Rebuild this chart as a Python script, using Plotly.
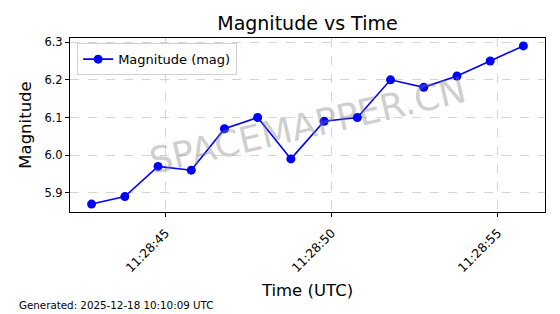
import plotly.graph_objects as go

times = ["2025-12-18 11:28:42.77", "2025-12-18 11:28:43.77", "2025-12-18 11:28:44.77",
         "2025-12-18 11:28:45.77", "2025-12-18 11:28:46.77", "2025-12-18 11:28:47.77",
         "2025-12-18 11:28:48.77", "2025-12-18 11:28:49.77", "2025-12-18 11:28:50.77",
         "2025-12-18 11:28:51.77", "2025-12-18 11:28:52.77", "2025-12-18 11:28:53.77",
         "2025-12-18 11:28:54.77", "2025-12-18 11:28:55.77"]
magnitude = [5.87, 5.89, 5.97, 5.96, 6.07, 6.10, 5.99, 6.09, 6.10, 6.20, 6.18, 6.21, 6.25, 6.29]
y_ticks = [5.9, 6.0, 6.1, 6.2, 6.3]

font = "DejaVu Sans"
fig = go.Figure()
fig.add_trace(go.Scatter(
    x=times, y=magnitude, mode="lines+markers", name="Magnitude (mag)",
    line=dict(color="#0000ff", width=1.6),
    marker=dict(color="#0000ff", size=9),
))

grid = dict(showgrid=True, gridcolor="#d4d4d4", griddash="dash", gridwidth=0.8,
            showline=True, linecolor="black", linewidth=1, mirror=True,
            ticks="outside", ticklen=4, tickcolor="black", zeroline=False)

fig.update_layout(
    width=560, height=314,
    margin=dict(l=70, r=15, t=38, b=102),
    plot_bgcolor="white", paper_bgcolor="white",
    font=dict(family=font, color="black"),
    title=dict(text="Magnitude vs Time", x=0.549, xanchor="center", y=0.925, yanchor="middle",
               font=dict(size=19, family=font)),
    xaxis=dict(type="date", range=["2025-12-18 11:28:42.12", "2025-12-18 11:28:56.42"],
               tick0="2025-12-18 11:28:45", dtick=5000, tickformat="%H:%M:%S",
               tickangle=-45, ticklabelstandoff=4,
               tickfont=dict(family=font, size=12.3, color="black"),
               title=dict(text="Time (UTC)", font=dict(size=16.5, family=font), standoff=10),
               **grid),
    yaxis=dict(range=[5.849, 6.311], tickvals=y_ticks, tickformat=".1f",
               tickfont=dict(family=font, size=11.5, color="black"),
               title=dict(text="Magnitude", font=dict(size=16.5, family=font), standoff=8),
               **grid),
    legend=dict(x=0.015, y=0.97, xanchor="left", yanchor="top",
                bgcolor="rgba(255,255,255,0.8)", bordercolor="#d0d0d0", borderwidth=1,
                font=dict(size=13, family=font)),
    showlegend=True,
)

fig.add_annotation(text="SPACEMAPPER.CN", xref="paper", yref="paper", x=0.5, y=0.5,
                   showarrow=False, textangle=-13,
                   font=dict(size=36, color="rgba(128,128,128,0.4)", family=font))
fig.add_annotation(text="Generated: 2025-12-18 10:10:09 UTC", xref="paper", yref="paper",
                   x=(17 - 70) / 475, y=(212 - 305) / 174, xanchor="left", yanchor="middle",
                   showarrow=False, font=dict(size=10.3, family=font, color="black"))

fig.write_html("out.html")
